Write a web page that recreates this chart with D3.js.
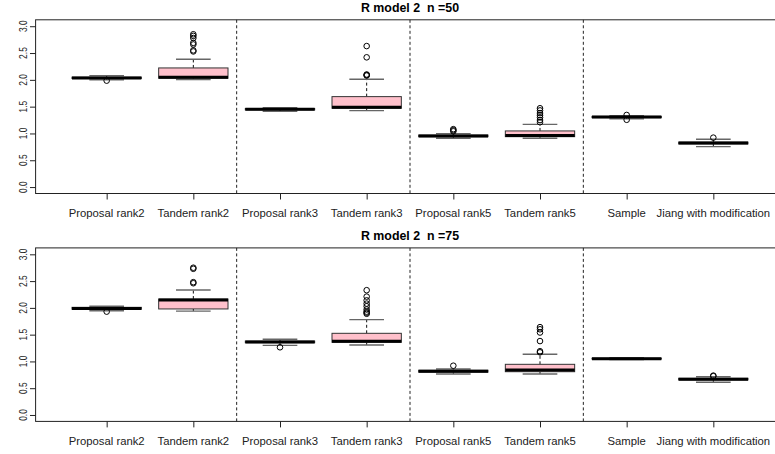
<!DOCTYPE html>
<html>
<head>
<meta charset="utf-8">
<script src="https://cdn.jsdelivr.net/npm/d3@7/dist/d3.min.js"></script>
<style>
  html, body { margin: 0; padding: 0; background: #fff; }
  svg { display: block; font-family: "Liberation Sans", Arial, Helvetica, sans-serif; }
</style>
</head>
<body>
<svg id="chart" width="775" height="454"></svg>
<script>
// Method labels along the x axis
const categories = ["Proposal rank2", "Tandem rank2", "Proposal rank3", "Tandem rank3",
                    "Proposal rank5", "Tandem rank5", "Sample", "Jiang with modification"];
const filled = [false, true, false, true, false, true, false, false];
const yTicks = [0, 0.5, 1, 1.5, 2, 2.5, 3];
const yTickLabels = ["0.0", "0.5", "1.0", "1.5", "2.0", "2.5", "3.0"];
const separators = [2.5, 4.5, 6.5];

// n = 50: lower whisker, Q1, median, Q3, upper whisker, outliers
const n50_lo  = [2.000, 2.005, 1.415, 1.425, 0.910, 0.910, 1.272, 0.755];
const n50_q1  = [2.025, 2.030, 1.440, 1.470, 0.940, 0.940, 1.295, 0.805];
const n50_med = [2.035, 2.050, 1.451, 1.489, 0.953, 0.960, 1.305, 0.822];
const n50_q3  = [2.050, 2.222, 1.465, 1.687, 0.970, 1.047, 1.318, 0.838];
const n50_hi  = [2.078, 2.384, 1.481, 2.010, 0.996, 1.170, 1.332, 0.892];
const n50_out = [
  [1.985],
  [2.53, 2.55, 2.66, 2.69, 2.78, 2.82, 2.85],
  [],
  [2.08, 2.09, 2.10, 2.42, 2.63],
  [1.04, 1.06, 1.08],
  [1.21, 1.25, 1.30, 1.34, 1.38, 1.43, 1.47],
  [1.255, 1.345],
  [0.922]
];

// n = 75
const n75_lo  = [1.947, 1.940, 1.300, 1.307, 0.765, 0.765, 1.035, 0.612];
const n75_q1  = [1.975, 1.980, 1.350, 1.357, 0.800, 0.808, 1.045, 0.655];
const n75_med = [1.990, 2.147, 1.363, 1.375, 0.815, 0.840, 1.051, 0.668];
const n75_q3  = [2.010, 2.165, 1.380, 1.525, 0.835, 0.946, 1.060, 0.685];
const n75_hi  = [2.029, 2.333, 1.413, 1.780, 0.859, 1.133, 1.070, 0.715];
const n75_out = [
  [1.93],
  [2.46, 2.48, 2.73, 2.75],
  [1.264],
  [1.89, 1.91, 1.93, 1.97, 2.03, 2.08, 2.14, 2.21, 2.33],
  [0.92],
  [1.17, 1.19, 1.38, 1.54, 1.60, 1.64],
  [],
  [0.725, 0.735]
];

const svg = d3.select("#chart");

// positions 1..8, box width 0.8, axis padded by 4% on each side
const x = d3.scaleLinear().domain([0.18, 8.82]).range([35.6, 784.4]);
const boxHalf = x(0.4) - x(0);
const stapleHalf = x(0.2) - x(0);

function panel(top, bottom, title, lo, q1, med, q3, hi, out) {
  const y = d3.scaleLinear().domain([-0.12, 3.12]).range([bottom, top]);
  const g = svg.append("g");

  // title
  g.append("text")
    .attr("x", (x.range()[0] + x.range()[1]) / 2)
    .attr("y", top - 7.5)
    .attr("text-anchor", "middle")
    .attr("font-weight", "bold")
    .attr("font-size", 12.4)
    .style("white-space", "pre")
    .text(title);

  // group separators
  g.selectAll(".sep").data(separators).join("line")
    .attr("x1", d => x(d)).attr("x2", d => x(d))
    .attr("y1", top).attr("y2", bottom)
    .attr("stroke", "#222").attr("stroke-width", 1)
    .attr("stroke-dasharray", "3,2.5");

  const idx = d3.range(categories.length);
  const bx = g.selectAll(".bx").data(idx).join("g");

  // whiskers (dashed) from box edges to staples
  bx.append("line")
    .attr("x1", i => x(i + 1)).attr("x2", i => x(i + 1))
    .attr("y1", i => y(q3[i])).attr("y2", i => y(hi[i]))
    .attr("stroke", "#111").attr("stroke-dasharray", "3,2.5");
  bx.append("line")
    .attr("x1", i => x(i + 1)).attr("x2", i => x(i + 1))
    .attr("y1", i => y(q1[i])).attr("y2", i => y(lo[i]))
    .attr("stroke", "#111").attr("stroke-dasharray", "3,2.5");

  // staples
  [hi, lo].forEach(arr => {
    bx.append("line")
      .attr("x1", i => x(i + 1) - stapleHalf).attr("x2", i => x(i + 1) + stapleHalf)
      .attr("y1", i => y(arr[i])).attr("y2", i => y(arr[i]))
      .attr("stroke", "#666").attr("stroke-width", 1.4);
  });

  // boxes
  bx.append("rect")
    .attr("x", i => x(i + 1) - boxHalf)
    .attr("width", boxHalf * 2)
    .attr("y", i => y(q3[i]))
    .attr("height", i => Math.max(0.5, y(q1[i]) - y(q3[i])))
    .attr("fill", i => filled[i] ? "#FFC0CB" : "#fff")
    .attr("stroke", "#333").attr("stroke-width", 1);

  // medians
  bx.append("line")
    .attr("x1", i => x(i + 1) - boxHalf).attr("x2", i => x(i + 1) + boxHalf)
    .attr("y1", i => y(med[i])).attr("y2", i => y(med[i]))
    .attr("stroke", "#000").attr("stroke-width", 3);

  // outliers
  bx.selectAll("circle").data(i => out[i].map(v => [i, v])).join("circle")
    .attr("cx", d => x(d[0] + 1)).attr("cy", d => y(d[1]))
    .attr("r", 2.8)
    .attr("fill", "none").attr("stroke", "#000").attr("stroke-width", 1);

  // frame (right edge falls outside the page)
  g.append("rect")
    .attr("x", x.range()[0]).attr("y", top)
    .attr("width", x.range()[1] - x.range()[0]).attr("height", bottom - top)
    .attr("fill", "none").attr("stroke", "#222").attr("stroke-width", 1);

  // y axis
  const yAxis = g.append("g").attr("transform", `translate(${x.range()[0]},0)`)
    .call(d3.axisLeft(y).tickValues(yTicks).tickSize(5.6).tickFormat(""));
  yAxis.select(".domain").remove();
  yAxis.selectAll("line").attr("stroke", "#222");
  g.selectAll(".ylab").data(yTicks).join("text")
    .attr("transform", (d) => `translate(26.6,${y(d)}) rotate(-90) scale(0.74,1)`)
    .attr("text-anchor", "middle")
    .attr("font-size", 11.4)
    .attr("fill", "#222")
    .text((d, i) => yTickLabels[i]);

  // x axis
  const xAxis = g.append("g").attr("transform", `translate(0,${bottom})`)
    .call(d3.axisBottom(x).tickValues(d3.range(1, 9)).tickSize(6).tickFormat(""));
  xAxis.select(".domain").remove();
  xAxis.selectAll("line").attr("stroke", "#222");
  g.selectAll(".xlab").data(categories).join("text")
    .attr("x", (d, i) => x(i + 1))
    .attr("y", bottom + 23.6)
    .attr("text-anchor", "middle")
    .attr("font-size", 11.3)
    .attr("fill", "#222")
    .text(d => d);
}

panel(19.8, 193.5, "R model 2  n =50", n50_lo, n50_q1, n50_med, n50_q3, n50_hi, n50_out);
panel(247.9, 421.4, "R model 2  n =75", n75_lo, n75_q1, n75_med, n75_q3, n75_hi, n75_out);
</script>
</body>
</html>
